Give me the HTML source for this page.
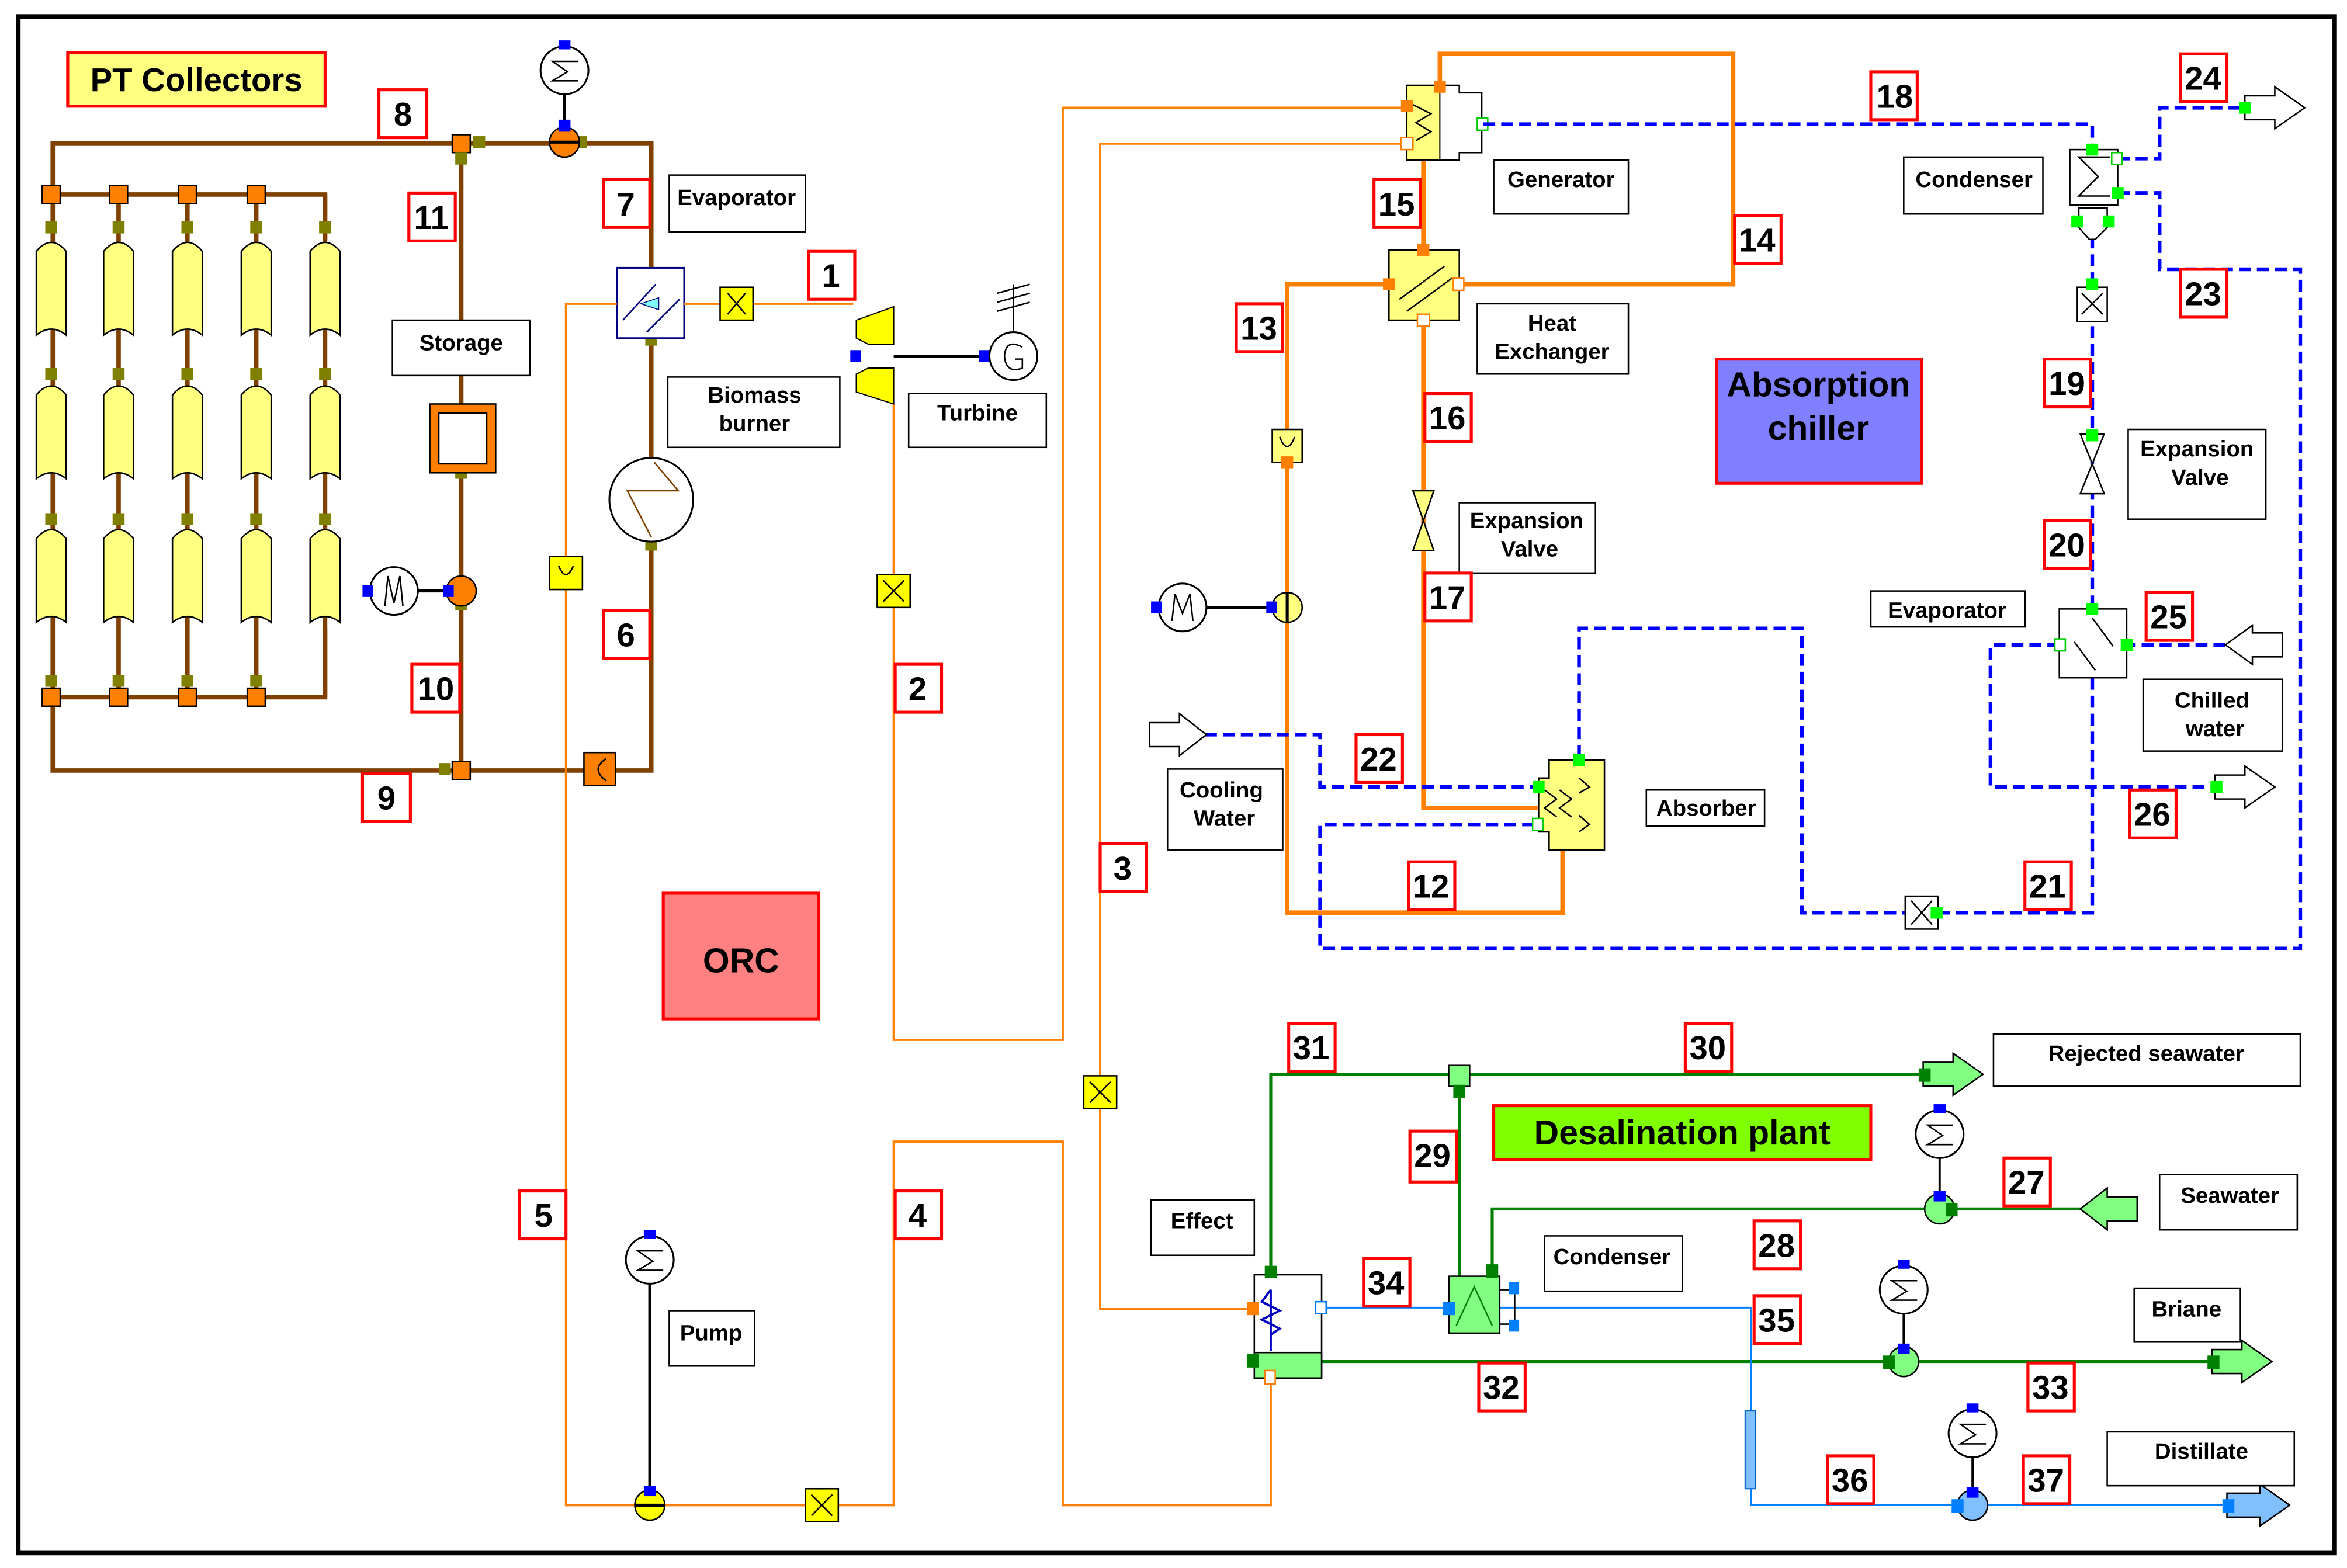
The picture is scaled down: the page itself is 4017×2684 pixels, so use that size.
<!DOCTYPE html>
<html><head><meta charset="utf-8"><style>
html,body{margin:0;padding:0;background:#fff}
svg{display:block}
text{font-family:"Liberation Sans",Arial,sans-serif;font-weight:bold;fill:#000}
.n{font-size:22px;text-anchor:middle}
.t{font-size:15px;text-anchor:middle}
.nb{fill:#fff;stroke:#f00;stroke-width:2}
.tb{fill:#fff;stroke:#000;stroke-width:1}
.br{fill:none;stroke:#7f4000;stroke-width:3}
.or{fill:none;stroke:#ff8000;stroke-width:1.5}
.ot{fill:none;stroke:#ff8000;stroke-width:3}
.bd{fill:none;stroke:#0000ff;stroke-width:2.5;stroke-dasharray:8 4}
.gr{fill:none;stroke:#008000;stroke-width:2}
.bl{fill:none;stroke:#0080ff;stroke-width:1.2}
.col{fill:#ffff80;stroke:#000;stroke-width:1}
.mot{fill:#fff;stroke:#000;stroke-width:1.2}
</style></head><body>
<svg width="4017" height="2684" viewBox="0 0 1568 1048" xmlns="http://www.w3.org/2000/svg">
<rect x="0" y="0" width="1568" height="1048" fill="#fff"/>
<rect x="12" y="11" width="1548" height="1027" fill="none" stroke="#000" stroke-width="3"/>

<!-- ===== PT collector loop ===== -->
<polyline class="br" points="35,130 35,96 435,96 435,180"/>
<polyline class="br" points="435,226 435,306"/>
<polyline class="br" points="435,362 435,515 35,515 35,466"/>
<polyline class="br" points="35,130 217,130 217,160"/>
<polyline class="br" points="35,466 217,466 217,420"/>
<line class="br" x1="308" y1="96" x2="308" y2="515"/>
<g>
<line class="br" x1="35" y1="130" x2="35" y2="466"/>
<line class="br" x1="79" y1="130" x2="79" y2="466"/>
<line class="br" x1="125" y1="130" x2="125" y2="466"/>
<line class="br" x1="171" y1="130" x2="171" y2="466"/>
<line class="br" x1="217" y1="130" x2="217" y2="466"/>
</g>
<g id="colg">
<path class="col" d="M24,168 Q34,156 44,168 L44,224 Q34,216 24,224 Z"/>
<path class="col" d="M24,264 Q34,252 44,264 L44,320 Q34,312 24,320 Z"/>
<path class="col" d="M24,360 Q34,348 44,360 L44,416 Q34,408 24,416 Z"/>
</g>
<use href="#colg" x="45"/><use href="#colg" x="91"/><use href="#colg" x="137"/><use href="#colg" x="183"/>
<g fill="#ff8000" stroke="#000" stroke-width="1">
<rect x="28" y="124" width="12" height="12"/><rect x="73" y="124" width="12" height="12"/><rect x="119" y="124" width="12" height="12"/><rect x="165" y="124" width="12" height="12"/>
<rect x="28" y="460" width="12" height="12"/><rect x="73" y="460" width="12" height="12"/><rect x="119" y="460" width="12" height="12"/><rect x="165" y="460" width="12" height="12"/>
<rect x="302" y="90" width="12" height="12"/><rect x="302" y="509" width="12" height="12"/>
</g>
<g fill="#808000">
<rect x="30" y="148" width="8" height="8"/><rect x="75" y="148" width="8" height="8"/><rect x="121" y="148" width="8" height="8"/><rect x="167" y="148" width="8" height="8"/><rect x="213" y="148" width="8" height="8"/>
<rect x="30" y="246" width="8" height="8"/><rect x="75" y="246" width="8" height="8"/><rect x="121" y="246" width="8" height="8"/><rect x="167" y="246" width="8" height="8"/><rect x="213" y="246" width="8" height="8"/>
<rect x="30" y="343" width="8" height="8"/><rect x="75" y="343" width="8" height="8"/><rect x="121" y="343" width="8" height="8"/><rect x="167" y="343" width="8" height="8"/><rect x="213" y="343" width="8" height="8"/>
<rect x="30" y="451" width="8" height="8"/><rect x="75" y="451" width="8" height="8"/><rect x="121" y="451" width="8" height="8"/><rect x="167" y="451" width="8" height="8"/>
<rect x="384" y="91" width="8" height="8"/><rect x="316" y="91" width="8" height="8"/><rect x="304" y="102" width="8" height="8"/><rect x="304" y="312" width="8" height="8"/><rect x="304" y="400" width="8" height="8"/><rect x="293" y="510" width="8" height="8"/><rect x="431" y="223" width="8" height="8"/><rect x="431" y="360" width="8" height="8"/>
</g>
<rect x="287" y="270" width="44" height="46" fill="#ff8000" stroke="#000"/>
<rect x="293" y="276" width="32" height="34" fill="#fff" stroke="#000"/>
<circle cx="308" cy="395" r="10" fill="#ff8000" stroke="#000"/>
<line x1="275" y1="395" x2="298" y2="395" stroke="#000" stroke-width="2"/>
<circle cx="263" cy="395" r="16" class="mot"/>
<path d="M257,405 L259,385 L263,403 L267,385 L269,405" fill="none" stroke="#000"/>
<rect x="242" y="391" width="7" height="8" fill="#00f"/><rect x="296" y="391" width="7" height="8" fill="#00f"/>
<circle cx="377" cy="95" r="10" fill="#ff8000" stroke="#000"/>
<line x1="367" y1="95" x2="387" y2="95" stroke="#000" stroke-width="2"/>
<line x1="377" y1="63" x2="377" y2="85" stroke="#000" stroke-width="2"/>
<circle cx="377" cy="47" r="16" class="mot"/>
<path d="M386,41 L369,41 L379,48 L369,54 L386,54" fill="none" stroke="#000"/>
<rect x="373" y="27" width="8" height="6" fill="#00f"/><rect x="373" y="80" width="8" height="8" fill="#00f"/>
<rect x="390" y="503" width="21" height="22" fill="#ff8000" stroke="#000"/>
<path d="M405,507 Q394,514 405,522" fill="none" stroke="#000"/>
<rect x="412" y="179" width="45" height="47" fill="#fff" stroke="#000080" stroke-width="1.2"/>
<path d="M416,214 L438,190 M432,222 L454,200" stroke="#000080" fill="none"/>
<path d="M428,203 L440,199 L440,207 Z" fill="#80ffff" stroke="#000080" stroke-width="0.6"/>
<circle cx="435" cy="334" r="28" fill="#fff" stroke="#000" stroke-width="1.2"/>
<path d="M437,309 L453,328 L419,328 L435,359" fill="none" stroke="#7f4000"/>

<!-- ===== ORC ===== -->
<polyline class="or" points="412,203 378,203 378,1006 424,1006"/>
<polyline class="or" points="457,203 570,203"/>
<polyline class="or" points="444,1006 597,1006 597,763 710,763 710,1006 849,1006 849,920"/>
<polyline class="or" points="597,270 597,695 710,695 710,72 940,72"/>
<polyline class="or" points="940,96 735,96 735,875 838,875"/>
<rect x="367" y="372" width="22" height="22" fill="#ffff00" stroke="#000"/>
<path d="M373,378 Q378,390 383,378" fill="none" stroke="#000"/>
<rect x="481" y="192" width="22" height="22" fill="#ffff00" stroke="#000"/>
<path d="M486,196 L498,210 M498,196 L486,210" stroke="#000"/>
<rect x="586" y="384" width="22" height="22" fill="#ffff00" stroke="#000"/>
<path d="M590,388 L604,402 M604,388 L590,402" stroke="#000"/>
<rect x="724" y="719" width="22" height="22" fill="#ffff00" stroke="#000"/>
<path d="M728,723 L742,737 M742,723 L728,737" stroke="#000"/>
<rect x="538" y="995" width="22" height="22" fill="#ffff00" stroke="#000"/>
<path d="M542,999 L556,1013 M556,999 L542,1013" stroke="#000"/>
<!-- turbine -->
<path d="M572,214 L597,205 L597,230 L580,230 L572,226 Z" fill="#ffff00" stroke="#000" stroke-width="0.8"/>
<path d="M572,250 L580,246 L597,246 L597,270 L572,262 Z" fill="#ffff00" stroke="#000" stroke-width="0.8"/>
<line x1="597" y1="238" x2="661" y2="238" stroke="#000" stroke-width="2"/>
<rect x="568" y="234" width="7" height="8" fill="#00f"/>
<rect x="654" y="234" width="7" height="8" fill="#00f"/>
<circle cx="677" cy="238" r="16" class="mot"/>
<path d="M683,232 Q672,226 671,238 Q672,250 683,246 L683,240 L678,240" fill="none" stroke="#000"/>
<path d="M677,222 L677,190 M666,196 L688,190 M666,202 L688,196 M666,208 L688,202" stroke="#000" fill="none"/>
<line x1="434" y1="858" x2="434" y2="996" stroke="#000" stroke-width="2"/>
<circle cx="434" cy="842" r="16" class="mot"/>
<path d="M443,836 L426,836 L436,843 L426,849 L443,849" fill="none" stroke="#000"/>
<rect x="430" y="822" width="8" height="6" fill="#00f"/>
<circle cx="434" cy="1006" r="10" fill="#ffff00" stroke="#000"/>
<line x1="424" y1="1006" x2="444" y2="1006" stroke="#000" stroke-width="2"/>
<rect x="430" y="993" width="8" height="7" fill="#00f"/>

<!-- ===== Absorption chiller ===== -->
<polyline class="ot" points="962,57 962,36 1158,36 1158,190 975,190"/>
<line class="ot" x1="951" y1="107" x2="951" y2="167"/>
<polyline class="ot" points="928,190 860,190 860,610 1044,610 1044,568"/>
<polyline class="ot" points="951,214 951,540 1068,540"/>
<path d="M940,57 L975,57 L975,62 L990,62 L990,102 L975,102 L975,107 L940,107 Z" fill="#fff" stroke="#000"/>
<rect x="940" y="57" width="22" height="50" fill="#ffff80" stroke="#000" stroke-width="0.8"/>
<path d="M944,70 L956,76 L946,82 L956,88 L946,94" fill="none" stroke="#000"/>
<rect x="936" y="67" width="8" height="8" fill="#ff8000"/><rect x="936" y="92" width="8" height="8" fill="#fff" stroke="#ff8000"/>
<rect x="958" y="54" width="8" height="8" fill="#ff8000"/><rect x="987" y="79" width="7" height="8" fill="#fff" stroke="#0c0"/>
<rect x="928" y="167" width="47" height="47" fill="#ffff80" stroke="#000"/>
<path d="M935,200 L965,178 M940,208 L970,186" stroke="#000" fill="none"/>
<rect x="947" y="163" width="8" height="8" fill="#ff8000"/><rect x="924" y="186" width="8" height="8" fill="#ff8000"/>
<rect x="971" y="186" width="7" height="8" fill="#fff" stroke="#ff8000"/><rect x="947" y="210" width="8" height="8" fill="#fff" stroke="#ff8000"/>
<rect x="850" y="287" width="20" height="22" fill="#ffff80" stroke="#000"/>
<path d="M855,292 Q860,305 865,292" fill="none" stroke="#000"/>
<rect x="856" y="305" width="8" height="8" fill="#ff8000"/>
<circle cx="860" cy="406" r="10" fill="#ffff80" stroke="#000"/>
<line x1="860" y1="396" x2="860" y2="416" stroke="#000" stroke-width="2"/>
<line x1="806" y1="406" x2="850" y2="406" stroke="#000" stroke-width="2"/>
<circle cx="790" cy="406" r="16" class="mot"/>
<path d="M783,415 L785,397 L790,410 L795,397 L797,415" fill="none" stroke="#000"/>
<rect x="769" y="402" width="7" height="8" fill="#00f"/><rect x="846" y="402" width="7" height="8" fill="#00f"/>
<path d="M944,328 L958,328 L944,368 L958,368 Z" fill="#ffff80" stroke="#000"/>
<path d="M1035,508 L1072,508 L1072,568 L1035,568 L1035,556 L1028,556 L1028,520 L1035,520 Z" fill="#ffff80" stroke="#000"/>
<path d="M1032,528 L1040,534 L1032,540 L1040,546 M1042,528 L1050,534 L1042,540 L1050,546 M1055,520 L1062,526 L1055,530 M1055,545 L1062,551 L1055,556" fill="none" stroke="#000"/>

<polyline class="bd" points="991,83 1398,83 1398,100"/>
<polyline class="bd" points="1415,106 1443,106 1443,72 1500,72"/>
<polyline class="bd" points="1415,129 1443,129 1443,180 1537,180 1537,634 882,634 882,551 1028,551"/>
<polyline class="bd" points="1398,158 1398,407"/>
<polyline class="bd" points="1487,431 1421,431"/>
<polyline class="bd" points="1376,431 1330,431 1330,526 1480,526"/>
<polyline class="bd" points="1398,453 1398,610 1204,610 1204,420 1055,420 1055,508"/>
<polyline class="bd" points="805,491 882,491 882,526 1028,526"/>
<rect x="1383" y="100" width="32" height="37" fill="#fff" stroke="#000"/>
<path d="M1410,105 L1389,105 L1402,118 L1389,131 L1410,131" fill="none" stroke="#000"/>
<path d="M1389,139 L1408,139 L1408,152 L1400,160 L1396,160 L1389,152 Z" fill="#fff" stroke="#000"/>
<rect x="1394" y="96" width="8" height="8" fill="#0f0"/><rect x="1411" y="125" width="8" height="8" fill="#0f0"/>
<rect x="1384" y="144" width="8" height="8" fill="#0f0"/><rect x="1405" y="144" width="8" height="8" fill="#0f0"/>
<rect x="1411" y="102" width="7" height="8" fill="#fff" stroke="#0c0"/>
<rect x="1388" y="192" width="20" height="23" fill="#fff" stroke="#000"/>
<path d="M1391,196 L1405,210 M1405,196 L1391,210" stroke="#000"/>
<rect x="1394" y="186" width="8" height="8" fill="#0f0"/>
<path d="M1390,290 L1406,290 L1390,330 L1406,330 Z" fill="#fff" stroke="#000"/>
<rect x="1394" y="287" width="8" height="8" fill="#0f0"/>
<rect x="1376" y="407" width="45" height="46" fill="#fff" stroke="#000"/>
<path d="M1398,413 L1412,432 M1400,448 L1386,429" stroke="#000"/>
<rect x="1394" y="403" width="8" height="8" fill="#0f0"/><rect x="1417" y="427" width="8" height="8" fill="#0f0"/>
<rect x="1373" y="427" width="7" height="8" fill="#fff" stroke="#0c0"/>
<rect x="1024" y="522" width="8" height="8" fill="#0f0"/><rect x="1051" y="504" width="8" height="8" fill="#0f0"/>
<rect x="1024" y="547" width="7" height="8" fill="#fff" stroke="#0c0"/>
<rect x="1273" y="599" width="22" height="22" fill="#fff" stroke="#000"/>
<path d="M1277,602 L1291,618 M1291,602 L1277,618" stroke="#000"/>
<rect x="1290" y="606" width="8" height="8" fill="#0f0"/>
<path d="M1500,64 L1520,64 L1520,58 L1540,72 L1520,86 L1520,80 L1500,80 Z" fill="#fff" stroke="#000"/>
<path d="M1525,423 L1505,423 L1505,418 L1487,431 L1505,444 L1505,439 L1525,439 Z" fill="#fff" stroke="#000"/>
<path d="M1480,518 L1500,518 L1500,512 L1520,526 L1500,540 L1500,534 L1480,534 Z" fill="#fff" stroke="#000"/>
<path d="M768,483 L788,483 L788,477 L806,491 L788,505 L788,499 L768,499 Z" fill="#fff" stroke="#000"/>
<rect x="1496" y="68" width="8" height="8" fill="#0f0"/><rect x="1477" y="522" width="8" height="8" fill="#0f0"/>

<!-- ===== Desalination ===== -->
<polyline class="gr" points="849,852 849,718 1285,718"/>
<line class="gr" x1="975" y1="726" x2="975" y2="853"/>
<polyline class="gr" points="997,853 997,808 1390,808"/>
<polyline class="gr" points="883,910 1480,910"/>
<polyline class="bl" points="883,874 968,874"/>
<polyline class="bl" points="1002,874 1170,874 1170,1006 1488,1006"/>
<rect x="1166" y="943" width="7" height="52" fill="#80c0ff" stroke="#0060c0" stroke-width="0.8"/>
<rect x="968" y="712" width="14" height="14" fill="#80ff80" stroke="#000" stroke-width="0.8"/>
<rect x="971" y="725" width="8" height="9" fill="#008000"/>
<rect x="838" y="852" width="45" height="68" fill="#fff" stroke="#000"/>
<rect x="838" y="904" width="45" height="17" fill="#80ff80" stroke="#000"/>
<path d="M849,862 L849,903 M849,862 L843,870 L855,876 L843,882 L855,888 L849,892" stroke="#0000c0" fill="none" stroke-width="1.5"/>
<rect x="845" y="846" width="8" height="8" fill="#008000"/><rect x="833" y="870" width="8" height="9" fill="#ff8000"/>
<rect x="833" y="905" width="8" height="9" fill="#008000"/><rect x="879" y="870" width="7" height="8" fill="#fff" stroke="#0080ff"/>
<rect x="845" y="916" width="7" height="9" fill="#fff" stroke="#ff8000"/>
<rect x="968" y="853" width="34" height="38" fill="#80ff80" stroke="#000"/>
<path d="M973,886 L985,860 L997,886" stroke="#008000" fill="none"/>
<path d="M1002,862 L1012,862 L1012,885 L1002,885" stroke="#000" fill="none"/>
<rect x="964" y="870" width="8" height="9" fill="#0080ff"/><rect x="1008" y="857" width="7" height="8" fill="#0080ff"/><rect x="1008" y="882" width="7" height="8" fill="#0080ff"/>
<rect x="993" y="845" width="8" height="9" fill="#008000"/>
<g>
<line x1="1296" y1="774" x2="1296" y2="798" stroke="#000" stroke-width="1.5"/>
<circle cx="1296" cy="758" r="16" class="mot"/>
<path d="M1305,752 L1288,752 L1298,759 L1288,765 L1305,765" fill="none" stroke="#000"/>
<rect x="1292" y="738" width="8" height="6" fill="#00f"/>
<circle cx="1296" cy="808" r="10" fill="#80ff80" stroke="#000"/>
<rect x="1292" y="796" width="8" height="7" fill="#00f"/><rect x="1300" y="804" width="8" height="9" fill="#008000"/>
</g>
<g>
<line x1="1272" y1="878" x2="1272" y2="900" stroke="#000" stroke-width="1.5"/>
<circle cx="1272" cy="862" r="16" class="mot"/>
<path d="M1281,856 L1264,856 L1274,863 L1264,869 L1281,869" fill="none" stroke="#000"/>
<rect x="1268" y="842" width="8" height="6" fill="#00f"/>
<circle cx="1272" cy="910" r="10" fill="#80ff80" stroke="#000"/>
<rect x="1268" y="898" width="8" height="7" fill="#00f"/><rect x="1258" y="906" width="8" height="9" fill="#008000"/>
</g>
<g>
<line x1="1318" y1="974" x2="1318" y2="996" stroke="#000" stroke-width="1.5"/>
<circle cx="1318" cy="958" r="16" class="mot"/>
<path d="M1327,952 L1310,952 L1320,959 L1310,965 L1327,965" fill="none" stroke="#000"/>
<rect x="1314" y="938" width="8" height="6" fill="#00f"/>
<circle cx="1318" cy="1006" r="10" fill="#80c0ff" stroke="#000"/>
<rect x="1314" y="994" width="8" height="7" fill="#00f"/><rect x="1304" y="1002" width="8" height="9" fill="#0080ff"/>
</g>
<path d="M1285,710 L1305,710 L1305,704 L1325,718 L1305,732 L1305,726 L1285,726 Z" fill="#80ff80" stroke="#000"/>
<path d="M1428,800 L1408,800 L1408,794 L1390,808 L1408,822 L1408,816 L1428,816 Z" fill="#80ff80" stroke="#000"/>
<path d="M1478,902 L1498,902 L1498,896 L1518,910 L1498,924 L1498,918 L1478,918 Z" fill="#80ff80" stroke="#000"/>
<path d="M1488,998 L1510,998 L1510,992 L1530,1006 L1510,1020 L1510,1014 L1488,1014 Z" fill="#80c0ff" stroke="#000"/>
<rect x="1282" y="714" width="8" height="9" fill="#008000"/><rect x="1475" y="906" width="8" height="9" fill="#008000"/><rect x="1485" y="1002" width="8" height="9" fill="#0080ff"/>

<rect x="45" y="35" width="172" height="36" fill="#ffff80" stroke="#f00" stroke-width="2"/>
<text x="131" y="61" style="font-size:22px;text-anchor:middle">PT Collectors</text>
<rect x="443" y="597" width="104" height="84" fill="#ff8080" stroke="#f00" stroke-width="2"/>
<text x="495" y="650" style="font-size:23px;text-anchor:middle">ORC</text>
<rect x="1147" y="240" width="137" height="83" fill="#8080ff" stroke="#f00" stroke-width="2"/>
<text x="1215" y="265" style="font-size:23px;text-anchor:middle">Absorption</text>
<text x="1215" y="294" style="font-size:23px;text-anchor:middle">chiller</text>
<rect x="998" y="739" width="252" height="36" fill="#80ff00" stroke="#f00" stroke-width="2"/>
<text x="1124" y="765" style="font-size:23px;text-anchor:middle">Desalination plant</text>

<rect class="tb" x="447" y="117" width="91" height="38"/><text class="t" x="492" y="137">Evaporator</text>
<rect class="tb" x="262" y="214" width="92" height="37"/><text class="t" x="308" y="234">Storage</text>
<rect class="tb" x="446" y="252" width="115" height="47"/><text class="t" x="504" y="269">Biomass</text><text class="t" x="504" y="288">burner</text>
<rect class="tb" x="607" y="263" width="92" height="36"/><text class="t" x="653" y="281">Turbine</text>
<rect class="tb" x="998" y="107" width="90" height="36"/><text class="t" x="1043" y="125">Generator</text>
<rect class="tb" x="987" y="203" width="101" height="47"/><text class="t" x="1037" y="221">Heat</text><text class="t" x="1037" y="240">Exchanger</text>
<rect class="tb" x="975" y="336" width="91" height="47"/><text class="t" x="1020" y="353">Expansion</text><text class="t" x="1022" y="372">Valve</text>
<rect class="tb" x="1272" y="105" width="93" height="38"/><text class="t" x="1319" y="125">Condenser</text>
<rect class="tb" x="1422" y="287" width="92" height="60"/><text class="t" x="1468" y="305">Expansion</text><text class="t" x="1470" y="324">Valve</text>
<rect class="tb" x="1250" y="395" width="103" height="24"/><text class="t" x="1301" y="413">Evaporator</text>
<rect class="tb" x="1432" y="454" width="93" height="48"/><text class="t" x="1478" y="473">Chilled</text><text class="t" x="1480" y="492">water</text>
<rect class="tb" x="1100" y="528" width="79" height="24"/><text class="t" x="1140" y="545">Absorber</text>
<rect class="tb" x="780" y="514" width="77" height="54"/><text class="t" x="816" y="533">Cooling</text><text class="t" x="818" y="552">Water</text>
<rect class="tb" x="1332" y="691" width="205" height="35"/><text class="t" x="1434" y="709">Rejected seawater</text>
<rect class="tb" x="1443" y="785" width="92" height="37"/><text class="t" x="1490" y="804">Seawater</text>
<rect class="tb" x="769" y="802" width="69" height="37"/><text class="t" x="803" y="821">Effect</text>
<rect class="tb" x="1032" y="826" width="92" height="37"/><text class="t" x="1077" y="845">Condenser</text>
<rect class="tb" x="1426" y="861" width="71" height="36"/><text class="t" x="1461" y="880">Briane</text>
<rect class="tb" x="1408" y="957" width="125" height="36"/><text class="t" x="1471" y="975">Distillate</text>
<rect class="tb" x="447" y="876" width="57" height="37"/><text class="t" x="475" y="896">Pump</text>

<g>
<rect class="nb" x="253" y="60" width="32" height="32"/><text class="n" x="269" y="84">8</text>
<rect class="nb" x="273" y="129" width="31" height="32"/><text class="n" x="288" y="153">11</text>
<rect class="nb" x="403" y="120" width="31" height="32"/><text class="n" x="418" y="144">7</text>
<rect class="nb" x="540" y="168" width="31" height="32"/><text class="n" x="555" y="192">1</text>
<rect class="nb" x="598" y="444" width="31" height="32"/><text class="n" x="613" y="468">2</text>
<rect class="nb" x="403" y="408" width="31" height="32"/><text class="n" x="418" y="432">6</text>
<rect class="nb" x="275" y="444" width="32" height="32"/><text class="n" x="291" y="468">10</text>
<rect class="nb" x="242" y="517" width="32" height="32"/><text class="n" x="258" y="541">9</text>
<rect class="nb" x="347" y="796" width="31" height="32"/><text class="n" x="363" y="820">5</text>
<rect class="nb" x="598" y="796" width="31" height="32"/><text class="n" x="613" y="820">4</text>
<rect class="nb" x="735" y="564" width="31" height="32"/><text class="n" x="750" y="588">3</text>
<rect class="nb" x="826" y="203" width="31" height="32"/><text class="n" x="841" y="227">13</text>
<rect class="nb" x="918" y="120" width="31" height="32"/><text class="n" x="933" y="144">15</text>
<rect class="nb" x="1159" y="144" width="31" height="32"/><text class="n" x="1174" y="168">14</text>
<rect class="nb" x="952" y="263" width="31" height="32"/><text class="n" x="967" y="287">16</text>
<rect class="nb" x="952" y="383" width="31" height="32"/><text class="n" x="967" y="407">17</text>
<rect class="nb" x="1250" y="48" width="31" height="32"/><text class="n" x="1266" y="72">18</text>
<rect class="nb" x="1457" y="36" width="31" height="32"/><text class="n" x="1472" y="60">24</text>
<rect class="nb" x="1457" y="180" width="31" height="32"/><text class="n" x="1472" y="204">23</text>
<rect class="nb" x="1366" y="240" width="31" height="32"/><text class="n" x="1381" y="264">19</text>
<rect class="nb" x="1366" y="348" width="31" height="32"/><text class="n" x="1381" y="372">20</text>
<rect class="nb" x="1434" y="396" width="31" height="32"/><text class="n" x="1449" y="420">25</text>
<rect class="nb" x="1423" y="528" width="31" height="32"/><text class="n" x="1438" y="552">26</text>
<rect class="nb" x="1353" y="576" width="31" height="32"/><text class="n" x="1368" y="600">21</text>
<rect class="nb" x="906" y="491" width="31" height="32"/><text class="n" x="921" y="515">22</text>
<rect class="nb" x="941" y="576" width="31" height="32"/><text class="n" x="956" y="600">12</text>
<rect class="nb" x="861" y="684" width="31" height="32"/><text class="n" x="876" y="708">31</text>
<rect class="nb" x="1126" y="684" width="31" height="32"/><text class="n" x="1141" y="708">30</text>
<rect class="nb" x="942" y="756" width="31" height="34"/><text class="n" x="957" y="780">29</text>
<rect class="nb" x="1339" y="774" width="31" height="32"/><text class="n" x="1354" y="798">27</text>
<rect class="nb" x="1172" y="816" width="31" height="32"/><text class="n" x="1187" y="840">28</text>
<rect class="nb" x="911" y="841" width="31" height="32"/><text class="n" x="926" y="865">34</text>
<rect class="nb" x="1172" y="866" width="31" height="32"/><text class="n" x="1187" y="890">35</text>
<rect class="nb" x="988" y="911" width="31" height="32"/><text class="n" x="1003" y="935">32</text>
<rect class="nb" x="1355" y="911" width="31" height="32"/><text class="n" x="1370" y="935">33</text>
<rect class="nb" x="1221" y="973" width="31" height="32"/><text class="n" x="1236" y="997">36</text>
<rect class="nb" x="1352" y="973" width="31" height="32"/><text class="n" x="1367" y="997">37</text>
</g>
</svg>
</body></html>
